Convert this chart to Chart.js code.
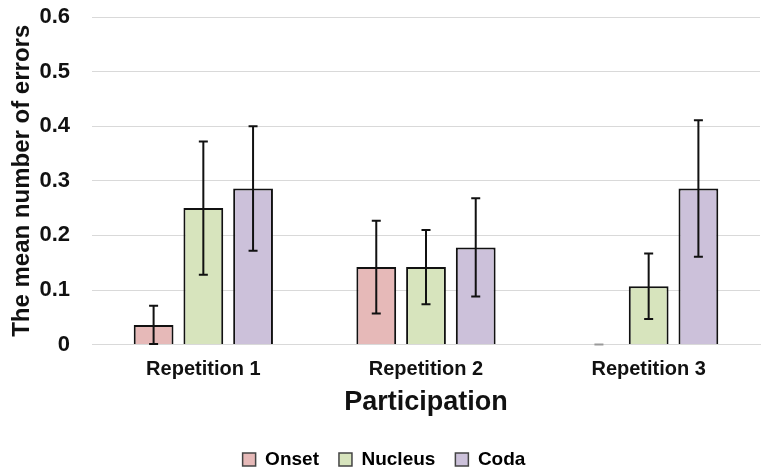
<!DOCTYPE html>
<html>
<head>
<meta charset="utf-8">
<script src="https://cdn.jsdelivr.net/npm/chart.js@4"></script>
<style>
  body { margin: 0; background: #fff; }
  #wrap { width: 767px; height: 470px; }
</style>
</head>
<body>
<div id="wrap"><canvas id="grafico"></canvas></div>
<script>
const categorias = ['Repetition 1', 'Repetition 2', 'Repetition 3'];
const onset = [0.036, 0.142, 0];
const nucleus = [0.25, 0.142, 0.107];
const coda = [0.286, 0.178, 0.286];
const erroOnset = [0.035, 0.085, 0];
const erroNucleus = [0.122, 0.068, 0.06];
const erroCoda = [0.114, 0.09, 0.125];
const ticksY = [0, 0.1, 0.2, 0.3, 0.4, 0.5, 0.6];

const erros = [erroOnset, erroNucleus, erroCoda];

// desenha as barras de erro por cima das barras
const barrasErro = {
  id: 'barrasErro',
  afterDatasetsDraw(chart) {
    const ctx = chart.ctx;
    const y = chart.scales.y;
    ctx.save();
    ctx.lineWidth = 2;
    chart.data.datasets.forEach((ds, i) => {
      const meta = chart.getDatasetMeta(i);
      meta.data.forEach((bar, j) => {
        const v = ds.data[j];
        const e = erros[i][j];
        const yTop = y.getPixelForValue(v + e);
        const yBot = y.getPixelForValue(Math.max(0, v - e));
        ctx.strokeStyle = e === 0 ? '#999' : '#111';
        ctx.beginPath();
        ctx.moveTo(bar.x, yTop);
        ctx.lineTo(bar.x, yBot);
        ctx.moveTo(bar.x - 4.5, yTop);
        ctx.lineTo(bar.x + 4.5, yTop);
        ctx.moveTo(bar.x - 4.5, yBot);
        ctx.lineTo(bar.x + 4.5, yBot);
        ctx.stroke();
      });
    });
    ctx.restore();
  }
};

Chart.defaults.font.family = '"Liberation Sans", Arial, sans-serif';
Chart.defaults.font.weight = 'bold';
Chart.defaults.color = '#111';

new Chart(document.getElementById('grafico'), {
  type: 'bar',
  data: {
    labels: categorias,
    datasets: [
      { label: 'Onset', data: onset, backgroundColor: '#e6b9b8', borderColor: '#111', borderWidth: 2 },
      { label: 'Nucleus', data: nucleus, backgroundColor: '#d7e4bd', borderColor: '#111', borderWidth: 2 },
      { label: 'Coda', data: coda, backgroundColor: '#ccc1da', borderColor: '#111', borderWidth: 2 }
    ]
  },
  options: {
    responsive: true,
    maintainAspectRatio: false,
    animation: false,
    layout: { padding: { left: 8, right: 7, top: 17, bottom: -9 } },
    datasets: { bar: { categoryPercentage: 0.67, barPercentage: 0.8 } },
    plugins: {
      tooltip: { enabled: false },
      legend: {
        position: 'bottom',
        labels: {
          font: { size: 19, weight: 'bold' },
          boxWidth: 13,
          boxHeight: 13,
          padding: 20,
          generateLabels(chart) {
            return chart.data.datasets.map((ds, i) => ({
              text: ds.label,
              fillStyle: ds.backgroundColor,
              strokeStyle: '#444',
              lineWidth: 1.5,
              datasetIndex: i
            }));
          }
        }
      }
    },
    scales: {
      x: {
        grid: { display: false },
        border: { color: '#d9d9d9', width: 1 },
        ticks: { font: { size: 20, weight: 'bold' }, padding: 5 },
        title: { display: true, text: 'Participation', font: { size: 27, weight: 'bold' }, padding: { top: 0, bottom: 11 } }
      },
      y: {
        min: 0,
        max: 0.6,
        afterBuildTicks(axis) { axis.ticks = ticksY.map(v => ({ value: v })); },
        afterFit(axis) {
          axis.width = 84;
          axis.paddingTop = 0;
          axis.paddingBottom = 0;
        },
        grid: { color: '#d9d9d9', lineWidth: 1, drawTicks: false },
        border: { display: false },
        ticks: {
          font: { size: 22, weight: 'bold' },
          padding: 22,
          callback: v => v === 0 ? '0' : v.toFixed(1)
        },
        title: { display: true, text: 'The mean number of errors', font: { size: 24, weight: 'bold' }, padding: { top: 0, bottom: 8 } }
      }
    }
  },
  plugins: [barrasErro]
});
</script>
</body>
</html>
